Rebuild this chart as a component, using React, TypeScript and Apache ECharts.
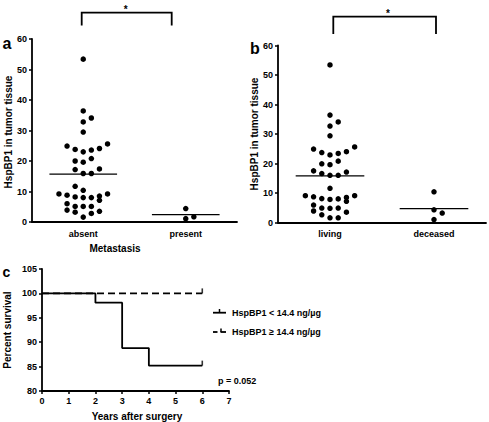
import React, { useEffect, useRef } from "react";
import * as echarts from "echarts";

// ---------- data ----------
const groupsA = ["absent", "present"];
const absentValues = [53.4, 36.4, 32.8, 34.1, 29.5, 24.9, 23.8, 23.0, 23.6, 24.1, 25.6, 20.0, 19.6, 20.8, 17.2, 17.4, 15.9, 15.9, 11.7, 10.4, 9.2, 8.8, 8.2, 8.0, 8.0, 8.5, 7.1, 9.2, 6.0, 5.1, 5.1, 5.1, 3.9, 3.2, 3.5, 2.8, 1.6];
const absentSlots = [0, 0, 0, 1, 0, -2, -1, 0, 1, 2, 3, -1, 0, 1, -1, 2, 0, 1, -1, 0, -3, -2, -1, 0, 1, 2, 2, 3, -2, -1, 0, 1, -2, -1, 2, 1, 0];
const presentValues = [4.4, 1.1, 1.7];
const presentSlots = [0, 0, 1];
const meansA = [15.7, 2.4];

const groupsB = ["living", "deceased"];
const livingValues = [53.4, 36.4, 32.7, 34.1, 29.4, 24.9, 23.7, 22.9, 23.4, 24.0, 25.6, 19.9, 19.6, 20.8, 17.5, 16.6, 16.0, 16.0, 17.1, 11.6, 9.1, 8.7, 8.1, 7.8, 8.0, 8.5, 7.2, 9.1, 5.9, 4.9, 4.8, 4.9, 3.9, 2.6, 3.5, 1.6, 1.6];
const livingSlots = [0, 0, 0, 1, 0, -2, -1, 0, 1, 2, 3, -1, 0, 1, -2, -1, 0, 1, 2, 0, -3, -2, -1, 0, 1, 2, 2, 3, -2, -1, 0, 1, -2, -1, 2, 0, 1];
const deceasedValues = [10.4, 4.3, 3.2, 1.0];
const deceasedSlots = [0, 0, 1, 0];
const meansB = [15.8, 4.7];

const lowTimes = [0, 2, 3, 4, 6];
const lowSurvival = [100, 98.1, 88.8, 85.2, 85.2];
const highTimes = [0, 6];
const highSurvival = [100, 100];
const censorTimes = [6, 6];
const censorSurvival = [85.2, 100];

const legendLabels = ["HspBP1 < 14.4 ng/\u00b5g", "HspBP1 \u2265 14.4 ng/\u00b5g"];
const pValueText = "p = 0.052";
const yTitleAB = "HspBP1 in tumor tissue";
const xTitleA = "Metastasis";
const yTitleC = "Percent survival";
const xTitleC = "Years after surgery";

// ---------- styling ----------
const FONT = '"Liberation Sans", Arial, Helvetica, sans-serif';
const BLACK = "#000";
const STEP = 0.079;
const HALF = 0.33;

const axisLine = { lineStyle: { color: BLACK, width: 1.8 } };
const axisTick = { length: 3, lineStyle: { color: BLACK, width: 1.5 } };
const labelStyle = { color: BLACK, fontSize: 9, fontWeight: "bold" as const, fontFamily: FONT };

function pts(values: number[], slots: number[], center: number) {
  return values.map((v, i) => [center + slots[i] * STEP, v]);
}

function meanLine(m: number, center: number) {
  return [
    [center - HALF, m],
    [center + HALF, m],
  ];
}

function text(x: number, y: number, t: string, size: number, opts: any = {}) {
  return {
    type: "text",
    x,
    y,
    rotation: opts.rotation || 0,
    style: {
      text: t,
      fill: BLACK,
      fontSize: size,
      fontWeight: "bold",
      fontFamily: FONT,
      align: opts.align || "center",
      verticalAlign: "middle",
    },
  };
}

function line(x1: number, y1: number, x2: number, y2: number, w = 1.8, dash?: number[]) {
  return {
    type: "line",
    shape: { x1, y1, x2, y2 },
    style: { stroke: BLACK, lineWidth: w, lineDash: dash },
  };
}

function bracket(xl: number, xr: number, yt: number, yb: number) {
  return {
    type: "polyline",
    shape: { points: [[xl, yb], [xl, yt], [xr, yt], [xr, yb]] },
    style: { stroke: BLACK, lineWidth: 1.8, fill: null },
  };
}

export default function App() {
  const ref = useRef<HTMLDivElement>(null);

  useEffect(() => {
    if (!ref.current) return;
    const chart = echarts.init(ref.current, null, { renderer: "svg" });

    const scatterBase = {
      type: "scatter",
      symbol: "circle",
      symbolSize: 5.5,
      itemStyle: { color: BLACK, opacity: 1 },
    };
    const meanBase = {
      type: "line",
      symbol: "none",
      lineStyle: { color: BLACK, width: 1.3 },
    };

    const option: any = {
      animation: false,
      textStyle: { fontFamily: FONT },
      grid: [
        { left: 32, top: 39, width: 205, height: 183 },
        { left: 278, top: 45.5, width: 208, height: 177 },
        { left: 42, top: 269, width: 187, height: 122 },
      ],
      xAxis: [
        {
          type: "category",
          gridIndex: 0,
          data: groupsA,
          axisLine,
          axisTick: { ...axisTick, alignWithLabel: true },
          axisLabel: { ...labelStyle, margin: 7 },
          splitLine: { show: false },
        },
        { type: "value", gridIndex: 0, min: 0, max: 2, show: false },
        {
          type: "category",
          gridIndex: 1,
          data: groupsB,
          axisLine,
          axisTick: { ...axisTick, alignWithLabel: true },
          axisLabel: { ...labelStyle, margin: 7 },
          splitLine: { show: false },
        },
        { type: "value", gridIndex: 1, min: 0, max: 2, show: false },
        {
          type: "value",
          gridIndex: 2,
          min: 0,
          max: 7,
          interval: 1,
          axisLine,
          axisTick,
          axisLabel: { ...labelStyle, margin: 5 },
          splitLine: { show: false },
        },
      ],
      yAxis: [
        {
          type: "value",
          gridIndex: 0,
          min: 0,
          max: 60,
          interval: 10,
          axisLine: { show: true, ...axisLine },
          axisTick: { show: true, ...axisTick },
          axisLabel: { ...labelStyle, margin: 5 },
          splitLine: { show: false },
        },
        {
          type: "value",
          gridIndex: 1,
          min: 0,
          max: 60,
          interval: 10,
          axisLine: { show: true, ...axisLine },
          axisTick: { show: true, ...axisTick },
          axisLabel: { ...labelStyle, margin: 5 },
          splitLine: { show: false },
        },
        {
          type: "value",
          gridIndex: 2,
          min: 80,
          max: 105,
          interval: 5,
          axisLine: { show: true, ...axisLine },
          axisTick: { show: true, ...axisTick },
          axisLabel: { ...labelStyle, margin: 5 },
          splitLine: { show: false },
        },
      ],
      series: [
        { ...scatterBase, name: groupsA[0], xAxisIndex: 1, yAxisIndex: 0, data: pts(absentValues, absentSlots, 0.5) },
        { ...scatterBase, name: groupsA[1], xAxisIndex: 1, yAxisIndex: 0, data: pts(presentValues, presentSlots, 1.5) },
        { ...meanBase, xAxisIndex: 1, yAxisIndex: 0, data: meanLine(meansA[0], 0.5) },
        { ...meanBase, xAxisIndex: 1, yAxisIndex: 0, data: meanLine(meansA[1], 1.5) },
        { ...scatterBase, name: groupsB[0], xAxisIndex: 3, yAxisIndex: 1, data: pts(livingValues, livingSlots, 0.5) },
        { ...scatterBase, name: groupsB[1], xAxisIndex: 3, yAxisIndex: 1, data: pts(deceasedValues, deceasedSlots, 1.5) },
        { ...meanBase, xAxisIndex: 3, yAxisIndex: 1, data: meanLine(meansB[0], 0.5) },
        { ...meanBase, xAxisIndex: 3, yAxisIndex: 1, data: meanLine(meansB[1], 1.5) },
        {
          type: "line",
          name: legendLabels[0],
          xAxisIndex: 4,
          yAxisIndex: 2,
          step: "end",
          symbol: "none",
          clip: false,
          lineStyle: { color: BLACK, width: 1.8 },
          data: lowTimes.map((t, i) => [t, lowSurvival[i]]),
        },
        {
          type: "line",
          name: legendLabels[1],
          xAxisIndex: 4,
          yAxisIndex: 2,
          symbol: "none",
          clip: false,
          lineStyle: { color: BLACK, width: 1.8, type: [7, 4] },
          data: highTimes.map((t, i) => [t, highSurvival[i]]),
        },
        {
          type: "scatter",
          xAxisIndex: 4,
          yAxisIndex: 2,
          symbol: "rect",
          symbolSize: [1.6, 5],
          symbolOffset: [0, -2.5],
          itemStyle: { color: BLACK },
          data: censorTimes.map((t, i) => [t, censorSurvival[i]]),
        },
      ],
      graphic: [
        text(2.5, 43.5, "a", 16, { align: "left" }),
        text(250, 48.5, "b", 16, { align: "left" }),
        text(2.5, 271.5, "c", 14, { align: "left" }),
        bracket(81.7, 171.7, 12.7, 25.5),
        text(125.7, 9, "*", 10),
        bracket(333.3, 436, 16.7, 34),
        text(388, 13, "*", 10),
        text(8, 132, yTitleAB, 10, { rotation: Math.PI / 2 }),
        text(254, 134, yTitleAB, 10, { rotation: Math.PI / 2 }),
        text(115, 248, xTitleA, 10),
        text(7.5, 330, yTitleC, 10, { rotation: Math.PI / 2 }),
        text(137, 416, xTitleC, 10),
        // legend samples
        line(213, 312.7, 226, 312.7),
        line(219.5, 309, 219.5, 312.7, 1.5),
        line(213, 332, 217.5, 332),
        line(220.5, 332, 226, 332),
        line(221, 328.5, 221, 332, 1.5),
        text(232, 312.5, legendLabels[0], 9, { align: "left" }),
        text(232, 332, legendLabels[1], 9, { align: "left" }),
        text(218, 381, pValueText, 9, { align: "left" }),
      ],
    };

    chart.setOption(option);
    return () => chart.dispose();
  }, []);

  return (
    <div
      ref={ref}
      style={{ position: "fixed", left: 0, top: 0, width: 489, height: 422, background: "#fff" }}
    />
  );
}
